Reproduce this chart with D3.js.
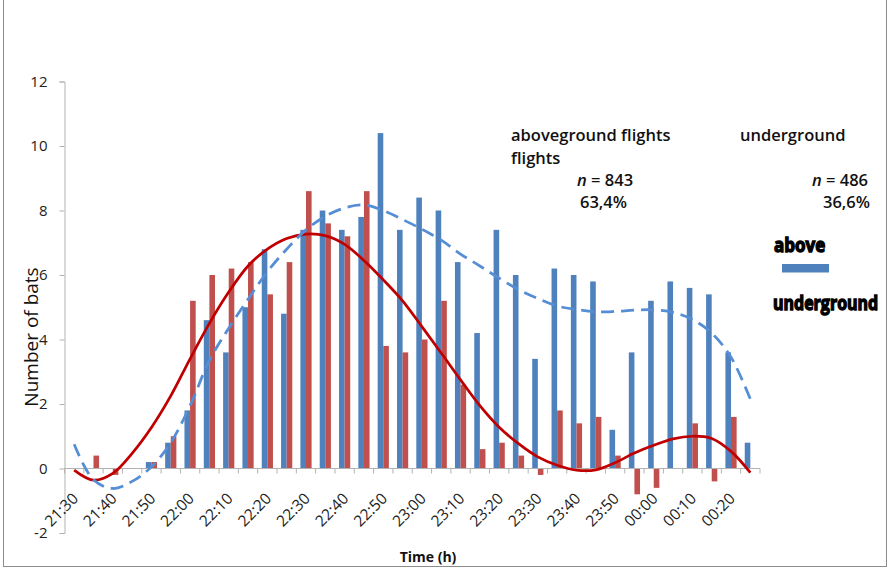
<!DOCTYPE html>
<html><head><meta charset="utf-8">
<script src="https://cdn.jsdelivr.net/npm/d3@7"></script>
<style>
html,body{margin:0;padding:0;background:#fff;}
svg{display:block;}
text{font-family:"Open Sans","Liberation Sans",sans-serif;}
</style></head>
<body>
<script>
const categories = ["21:30","21:35","21:40","21:45","21:50","21:55","22:00","22:05","22:10","22:15","22:20","22:25","22:30","22:35","22:40","22:45","22:50","22:55","23:00","23:05","23:10","23:15","23:20","23:25","23:30","23:35","23:40","23:45","23:50","23:55","00:00","00:05","00:10","00:15","00:20","00:25"];
const aboveground = [0,0,0,0,0.2,0.8,1.8,4.6,3.6,5.0,6.8,4.8,7.4,8.0,7.4,7.8,10.4,7.4,8.4,8.0,6.4,4.2,7.4,6.0,3.4,6.2,6.0,5.8,1.2,3.6,5.2,5.8,5.6,5.4,3.6,0.8];
const underground = [0,0.4,-0.2,0,0.2,1.0,5.2,6.0,6.2,6.4,5.4,6.4,8.6,7.6,7.2,8.6,3.8,3.6,4.0,5.2,2.6,0.6,0.8,0.4,-0.2,1.8,1.4,1.6,0.4,-0.8,-0.6,0,1.4,-0.4,1.6,0];
// trendlines at each category centre
const trendAbove = [0.75,-0.35,-0.62,-0.4,0.05,0.8,1.95,3.35,4.35,5.25,6.1,6.8,7.4,7.82,8.08,8.17,8.0,7.72,7.42,7.08,6.65,6.28,5.9,5.55,5.27,5.04,4.93,4.86,4.87,4.91,4.92,4.84,4.62,4.2,3.45,2.15];
const trendUnder = [-0.05,-0.36,-0.15,0.47,1.27,2.25,3.4,4.5,5.47,6.28,6.8,7.13,7.27,7.22,6.95,6.45,5.85,5.2,4.4,3.58,2.75,1.95,1.28,0.77,0.36,0.1,-0.05,-0.04,0.18,0.48,0.72,0.92,1.0,0.93,0.53,-0.13];
const yTicks = [-2,0,2,4,6,8,10,12];
const labelEvery = 2;

const W = 890, H = 577;
const svg = d3.select("body").append("svg").attr("width", W).attr("height", H);

// outer frame
svg.append("rect").attr("x",3.5).attr("y",-2).attr("width",883).attr("height",568.5)
  .attr("fill","none").attr("stroke","#8c8c8c").attr("stroke-width",1);

const x = d3.scaleBand().domain(categories).range([64.5, 760]).paddingInner(0).paddingOuter(0);
const y = d3.scaleLinear().domain([-2, 12]).range([533, 81.5]);
const bw = x.bandwidth();
const barW = bw * 0.29;

// y axis
const yAxis = svg.append("g").attr("transform","translate(64.5,0)")
  .call(d3.axisLeft(y).tickValues(yTicks).tickSize(5).tickPadding(12).tickFormat(d3.format("d")));
yAxis.select(".domain").attr("stroke","#b3b3b3");
yAxis.selectAll(".tick line").attr("stroke","#b3b3b3");
yAxis.selectAll(".tick text").attr("font-size",15).attr("fill","#222")
  .attr("font-family","'Open Sans',sans-serif").text(d => d < 0 ? "-" + Math.abs(d) : d);

// bars
const g = svg.append("g");
g.selectAll(".ba").data(categories).join("rect")
  .attr("x", d => x(d) + bw/2 - barW)
  .attr("width", barW)
  .attr("y", (d,i) => y(Math.max(0, aboveground[i])))
  .attr("height", (d,i) => Math.abs(y(aboveground[i]) - y(0)))
  .attr("fill", "#4f81bd");
g.selectAll(".bu").data(categories).join("rect")
  .attr("x", d => x(d) + bw/2)
  .attr("width", barW)
  .attr("y", (d,i) => y(Math.max(0, underground[i])))
  .attr("height", (d,i) => Math.abs(y(underground[i]) - y(0)))
  .attr("fill", "#c0504d");

// x axis (category axis crossing at 0)
const xa = svg.append("g");
const y0 = y(0);
xa.append("line").attr("x1", x.range()[0]).attr("x2", x.range()[1]).attr("y1", y0).attr("y2", y0).attr("stroke","#b3b3b3");
const tickPos = categories.map(c => x(c)).concat([x.range()[1]]);
xa.selectAll(".tk").data(tickPos).join("line")
  .attr("x1", d => d).attr("x2", d => d).attr("y1", y0).attr("y2", y0 + 5).attr("stroke","#b3b3b3");
xa.selectAll(".lb").data(categories.filter((c,i) => i % labelEvery === 0)).join("text")
  .attr("transform", d => `translate(${x(d) + bw/2 + 5},${y0 + 31}) rotate(-45)`)
  .attr("text-anchor","end").attr("font-size",15.5).attr("fill","#222").text(d => d);

// trendlines
const line = d3.line().x((d,i) => x(categories[i]) + bw/2).y(d => y(d)).curve(d3.curveCatmullRom.alpha(0.5));
svg.append("path").datum(trendUnder).attr("d", line).attr("fill","none")
  .attr("stroke","#c00000").attr("stroke-width",2.75);
svg.append("path").datum(trendAbove).attr("d", line).attr("fill","none")
  .attr("stroke","#558ed5").attr("stroke-width",2.75).attr("stroke-dasharray","13,7");

// axis titles
svg.append("text").attr("transform","translate(38,337) rotate(-90)").attr("text-anchor","middle")
  .attr("font-size",19).attr("fill","#111").text("Number of bats");
svg.append("text").attr("x",428).attr("y",562).attr("text-anchor","middle")
  .attr("font-size",14).attr("font-weight",700).attr("fill","#111").text("Time (h)");

// annotations
const ann = svg.append("g").attr("font-size",16.5).attr("font-weight",600).attr("fill","#111");
ann.append("text").attr("x",511).attr("y",141).text("aboveground flights");
ann.append("text").attr("x",740).attr("y",141).text("underground");
ann.append("text").attr("x",511).attr("y",164).text("flights");
const n1 = ann.append("text").attr("x",577).attr("y",186);
n1.append("tspan").attr("font-style","italic").text("n");
n1.append("tspan").text(" = 843");
ann.append("text").attr("x",580).attr("y",208).text("63,4%");
const n2 = ann.append("text").attr("x",868).attr("y",186).attr("text-anchor","end");
n2.append("tspan").attr("font-style","italic").text("n");
n2.append("tspan").text(" = 486");
ann.append("text").attr("x",870).attr("y",208).attr("text-anchor","end").text("36,6%");

// legend (heavy compressed text)
const leg = svg.append("g").attr("font-family","'Liberation Sans',Arial,sans-serif").attr("font-weight",700)
  .attr("font-size",20).attr("fill","#000").attr("stroke","#000").attr("stroke-width",1.4);
leg.append("text").attr("transform","translate(774,252) scale(0.85,1)").text("above");
svg.append("rect").attr("x",782).attr("y",264).attr("width",47).attr("height",8.5).attr("fill","#4f81bd");
leg.append("text").attr("transform","translate(773,310) scale(0.8,1)").text("underground");
</script>
</body></html>
